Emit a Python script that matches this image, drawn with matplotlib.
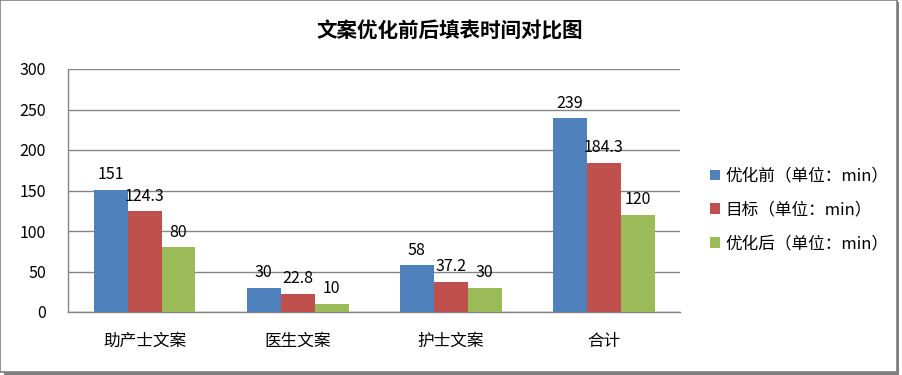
import matplotlib
matplotlib.use("Agg")
from matplotlib import pyplot as plt
from matplotlib.patches import Rectangle
import numpy as np

plt.rcParams['font.family'] = ['Noto Sans CJK SC', 'DejaVu Sans']

categories = ["助产士文案", "医生文案", "护士文案", "合计"]
series_names = ["优化前（单位：min）", "目标（单位：min）", "优化后（单位：min）"]
before = [151, 30, 58, 239]
target = [124.3, 22.8, 37.2, 184.3]
after = [80, 10, 30, 120]
labels_before = ["151", "30", "58", "239"]
labels_target = ["124.3", "22.8", "37.2", "184.3"]
labels_after = ["80", "10", "30", "120"]
colors = ["#4F81BD", "#C0504D", "#9BBB59"]

fig = plt.figure(figsize=(9.03, 3.75), dpi=100)
ax = fig.add_axes([0.0753, 0.168, 0.678, 0.648])
ax.set_zorder(5)
ax.patch.set_alpha(0)

# outer frame with shadow
fig.patches.append(Rectangle((0.004, 0.0), 0.992, 0.994, transform=fig.transFigure,
                             facecolor="#808080", edgecolor="none", zorder=-2))
fig.patches.append(Rectangle((0.0, 0.008), 0.993, 0.992, transform=fig.transFigure,
                             facecolor="white", edgecolor="#808080", linewidth=1.2, zorder=-1))

x = np.arange(len(categories))
w = 0.222
all_vals = [before, target, after]
all_labels = [labels_before, labels_target, labels_after]
for i in range(3):
    pos = x + (i - 1) * w
    ax.bar(pos, all_vals[i], w, color=colors[i], label=series_names[i], zorder=3)
    for p, v, t in zip(pos, all_vals[i], all_labels[i]):
        ax.text(p, v + 8, t, ha="center", va="bottom", fontsize=11.5, color="black")

ax.set_xlim(-0.5, 3.5)
ax.set_ylim(0, 300)
ax.set_yticks(range(0, 301, 50))
ax.set_xticks(x)
ax.set_xticklabels(categories, fontsize=12)
ax.tick_params(axis="x", length=0, pad=15)
ax.tick_params(axis="y", length=0, pad=16, labelsize=11.5)
ax.grid(axis="y", color="#868686", linewidth=1, zorder=0)
for s in ["top", "right"]:
    ax.spines[s].set_visible(False)
for s in ["left", "bottom"]:
    ax.spines[s].set_color("#868686")
    ax.spines[s].set_linewidth(1)

fig.text(0.498, 0.918, "文案优化前后填表时间对比图", ha="center", va="center",
         fontsize=14.8, fontweight="bold")

fig.legend(loc="center left", bbox_to_anchor=(0.77, 0.44), frameon=False,
           fontsize=12, handlelength=0.6, handleheight=0.6, handletextpad=0.3,
           labelspacing=1.0)

fig.savefig("out.png", dpi=100)
